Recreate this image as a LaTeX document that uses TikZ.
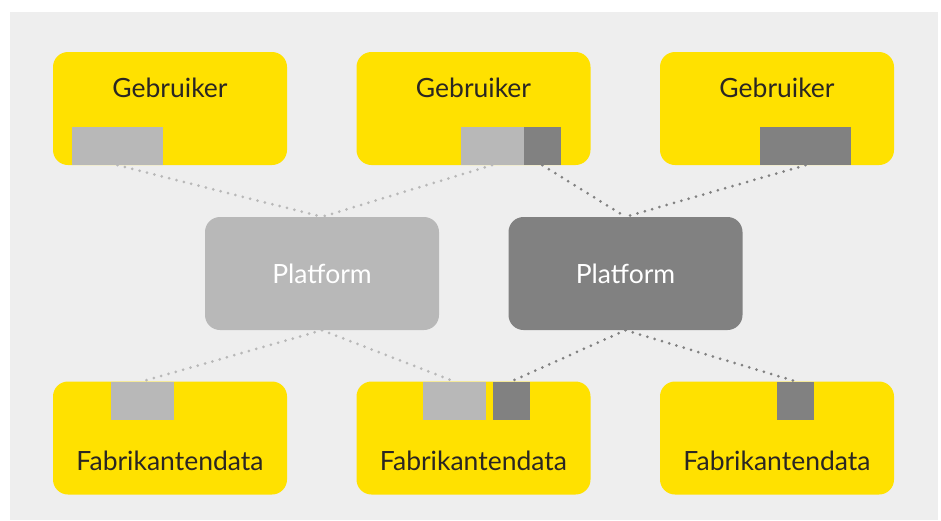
\documentclass[tikz,border=0pt]{standalone}
\usepackage{fontspec}
\setmainfont{Lato}
\usepackage{tikz}
\usetikzlibrary{positioning}
\definecolor{bggrey}{HTML}{EEEEEE}
\definecolor{boxyellow}{HTML}{FFE100}
\definecolor{lightgrey}{HTML}{B8B8B8}
\definecolor{darkgrey}{HTML}{818181}
\definecolor{ink}{HTML}{2A2623}
\tikzstyle{box} = [rounded corners=15pt, minimum width=234pt, minimum height=113pt, inner sep=0pt, font=\fontsize{26.5}{32}\selectfont]
\tikzstyle{user} = [box, fill=boxyellow, text=ink, text height=45pt, text depth=68pt]
\tikzstyle{data} = [box, fill=boxyellow, text=ink, text height=89pt, text depth=24pt]
\tikzstyle{lightplatform} = [box, fill=lightgrey, text=white]
\tikzstyle{darkplatform} = [box, fill=darkgrey, text=white]
\tikzstyle{tab} = [inner sep=0pt, minimum height=38pt]
\tikzstyle{lighttab} = [tab, fill=lightgrey]
\tikzstyle{darktab} = [tab, fill=darkgrey]
\tikzstyle{lightlink} = [lightgrey, line width=3pt, line cap=round, dash pattern=on 0pt off 7.6pt]
\tikzstyle{darklink} = [darkgrey, line width=3pt, line cap=round, dash pattern=on 0pt off 7.6pt]
\begin{document}
\begin{tikzpicture}[x=1pt, y=-1pt, node distance=303.5pt]
				\useasboundingbox (0,0) rectangle (941,520);
				\fill[bggrey] (10,12) rectangle (938,520);

				\node (user1)[user] at (170,108.5){Gebruiker};
				\node (user2)[user, right of=user1]{Gebruiker};
				\node (user3)[user, right of=user2]{Gebruiker};
				\node (platform1)[lightplatform] at (322,273.5){Platform};
				\node (platform2)[darkplatform, right of=platform1]{Platform};
				\node (data1)[data, node distance=329.5pt, below of=user1]{Fabrikantendata};
				\node (data2)[data, right of=data1]{Fabrikantendata};
				\node (data3)[data, right of=data2]{Fabrikantendata};

				\node (user1tab)[lighttab, minimum width=91pt, anchor=south west, xshift=19pt] at (user1.south west){};
				\node (user2light)[lighttab, minimum width=63pt, anchor=south west, xshift=104pt] at (user2.south west){};
				\node (user2dark)[darktab, minimum width=37pt, anchor=south west] at (user2light.south east){};
				\node (user3tab)[darktab, minimum width=91pt, anchor=south west, xshift=100pt] at (user3.south west){};
				\node (data1tab)[lighttab, minimum width=63pt, anchor=north west, xshift=58pt] at (data1.north west){};
				\node (data2light)[lighttab, minimum width=63pt, anchor=north west, xshift=66pt] at (data2.north west){};
				\node (data2dark)[darktab, minimum width=37pt, anchor=north west, xshift=7pt] at (data2light.north east){};
				\node (data3tab)[darktab, minimum width=37pt, anchor=north west, xshift=117pt] at (data3.north west){};

				\draw [lightlink] (user1tab.south) -- (platform1.north);
				\draw [lightlink] (user2light.south) -- (platform1.north);
				\draw [darklink] (user2dark.south) -- (platform2.north);
				\draw [darklink] (user3tab.south) -- (platform2.north);
				\draw [lightlink] (platform1.south) -- (data1tab.north);
				\draw [lightlink] (platform1.south) -- (data2light.north);
				\draw [darklink] (platform2.south) -- (data2dark.north);
				\draw [darklink] (platform2.south) -- (data3tab.north);
			\end{tikzpicture}
\end{document}
